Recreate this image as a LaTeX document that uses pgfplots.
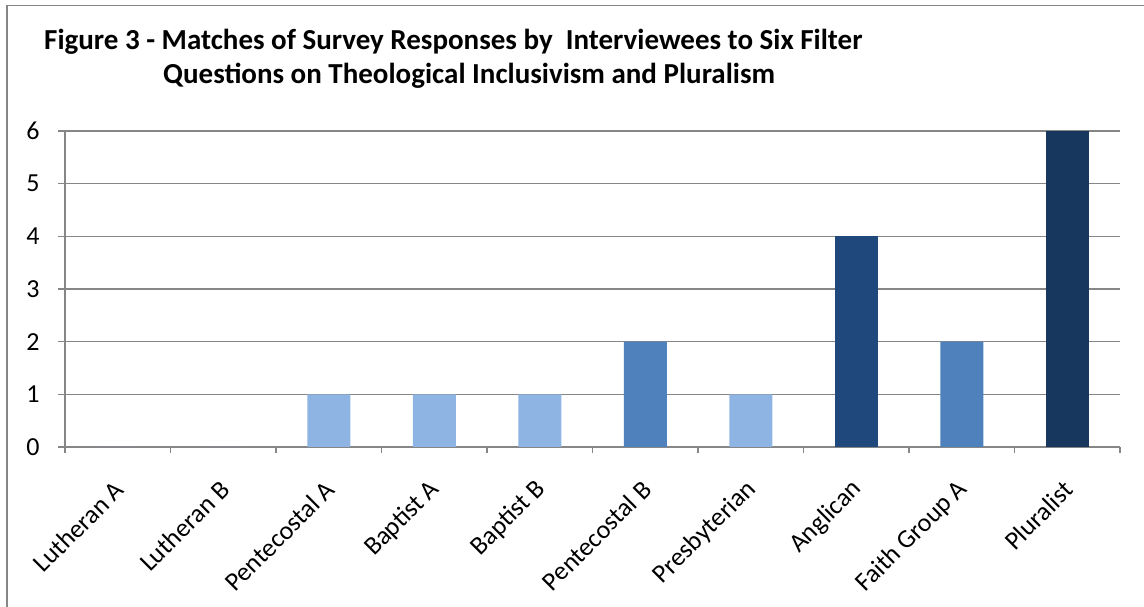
\documentclass[border=0pt]{standalone}
\usepackage{pgfplots}
\pgfplotsset{compat=1.18}
\usepackage{fontspec}
\setmainfont{Carlito}
\definecolor{lightb}{HTML}{8DB4E2}
\definecolor{midb}{HTML}{4F81BD}
\definecolor{darkb}{HTML}{1F497D}
\definecolor{darkestb}{HTML}{17375E}
\definecolor{axgray}{HTML}{868686}
\begin{document}
\begin{tikzpicture}
\useasboundingbox (0,0) rectangle (1144pt,607pt);
\draw[axgray, line width=1.5pt] (7pt,0pt) -- (7pt,601.5pt) -- (1144pt,601.5pt);
\node[anchor=base west, inner sep=0pt, font=\bfseries\fontsize{29}{34}\selectfont] at (44pt,557pt) {Figure 3 - Matches of Survey Responses by\ \ Interviewees to Six Filter};
\node[anchor=base west, inner sep=0pt, font=\bfseries\fontsize{29}{34}\selectfont] at (163pt,523pt) {Questions on Theological Inclusivism and Pluralism};
\begin{axis}[
  at={(65pt,160pt)}, anchor=south west,
  scale only axis, width=1055pt, height=316pt,
  xmin=0.5, xmax=10.5, ymin=0, ymax=6,
  axis x line*=bottom, axis y line*=left,
  axis line style={-, axgray, line width=1.5pt},
  ytick={0,1,2,3,4,5,6},
  ymajorgrids, grid style={axgray, line width=1.5pt},
  xtick={1,...,10},
  xticklabels={Lutheran A,Lutheran B,Pentecostal A,Baptist A,Baptist B,Pentecostal B,Presbyterian,Anglican,Faith Group A,Pluralist},
  minor xtick={0.5,1.5,...,10.5},
  tick align=outside,
  major tick length=7pt, minor tick length=6pt,
  x tick style={draw=none},
  minor x tick style={draw=axgray, line width=1.5pt},
  y tick style={axgray, line width=1.5pt},
  tick label style={font=\fontsize{26}{30}\selectfont},
  /pgf/number format/assume math mode=true,
  yticklabel style={xshift=-15pt},
  xticklabel style={xshift=4pt, yshift=-29pt, rotate=45, anchor=east},
  ybar, bar width=43pt, bar shift=0pt,
  clip=false,
]
\addplot[fill=lightb, draw=none] coordinates {(1,0) (2,0) (3,1) (4,1) (5,1) (7,1)};
\addplot[fill=midb, draw=none] coordinates {(6,2) (9,2)};
\addplot[fill=darkb, draw=none] coordinates {(8,4)};
\addplot[fill=darkestb, draw=none] coordinates {(10,6)};
\end{axis}
\end{tikzpicture}
\end{document}
